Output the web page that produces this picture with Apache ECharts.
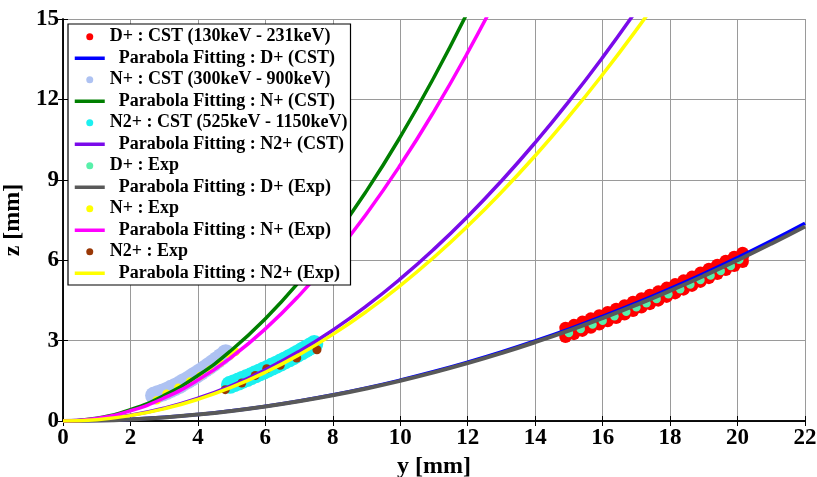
<!DOCTYPE html>
<html>
<head>
<meta charset="utf-8">
<script src="https://cdn.jsdelivr.net/npm/echarts@6/dist/echarts.min.js"></script>
<style>
html,body{margin:0;padding:0;background:#fff;}
#chart{width:817px;height:477px;}
</style>
</head>
<body>
<div id="chart"></div>
<script>
// ---- axis ranges ----
const xMin = 0, xMax = 22, xStep = 2;
const zMin = 0, zMax = 15, zStep = 3;

// ---- D+ : CST (three rows of the dense band) ----
const dCstY = [14.9,15.15,15.4,15.65,15.9,16.15,16.4,16.65,16.9,17.15,17.4,17.65,17.9,18.15,18.4,18.65,18.9,19.15,19.4,19.65,19.9,20.15];
const dCstZupper = [3.47,3.58,3.70,3.82,3.94,4.06,4.18,4.31,4.44,4.57,4.70,4.83,4.97,5.10,5.24,5.38,5.53,5.67,5.82,5.97,6.12,6.27];
const dCstZmid = [3.30,3.42,3.54,3.66,3.78,3.90,4.02,4.15,4.28,4.41,4.54,4.67,4.81,4.94,5.08,5.22,5.37,5.51,5.66,5.81,5.96,6.11];
const dCstZlower = [3.14,3.25,3.37,3.49,3.61,3.73,3.85,3.98,4.11,4.24,4.37,4.50,4.64,4.77,4.91,5.05,5.20,5.34,5.49,5.64,5.79,5.94];

// ---- N+ : CST band (centre line of the dense band) ----
const nCstY = [2.7,2.825,2.95,3.075,3.2,3.325,3.45,3.575,3.7,3.825,3.95,4.075,4.2,4.325,4.45,4.575,4.7,4.825];
const nCstZ = [0.95,1.01,1.06,1.12,1.20,1.27,1.35,1.45,1.53,1.63,1.73,1.83,1.94,2.05,2.16,2.28,2.40,2.53];

// ---- N2+ : CST band (centre line of the dense band) ----
const n2CstY = [4.95,5.075,5.2,5.325,5.45,5.575,5.7,5.825,5.95,6.075,6.2,6.325,6.45,6.575,6.7,6.825,6.95,7.075,7.2,7.325,7.45];
const n2CstZ = [1.35,1.41,1.47,1.54,1.60,1.67,1.74,1.81,1.88,1.95,2.03,2.10,2.18,2.26,2.34,2.42,2.51,2.60,2.69,2.78,2.87];

// ---- Experimental points ----
const dExpY = [15.0,15.35,15.7,16.0,16.35,16.7,17.0,17.3,17.6,17.95,18.3,18.6,18.9,19.2,19.5,19.8,20.05];
const dExpZ = [3.28,3.43,3.60,3.74,3.91,4.08,4.24,4.39,4.55,4.73,4.92,5.09,5.26,5.43,5.60,5.78,6.02];
const nExpY = [2.78,3.07,3.42,3.77,4.07,4.36,4.66,4.96,5.12];
const nExpZ = [0.77,1.02,1.24,1.47,1.68,1.91,2.17,2.44,2.58];
const n2ExpY = [4.81,5.30,5.70,6.04,6.44,6.93,7.53];
const n2ExpZ = [1.17,1.42,1.70,1.95,2.08,2.35,2.66];

// ---- Parabola fitting curves (sampled at y = 0,1,2,...) ----
const fitY = [0,1,2,3,4,5,6,7,8,9,10,11,12,13,14,15,16,17,18,19,20,21,22];
const fitDcst = [0,0.015,0.061,0.137,0.244,0.381,0.549,0.747,0.976,1.235,1.525,1.845,2.196,2.577,2.989,3.431,3.904,4.407,4.941,5.505,6.1,6.725,7.381];
const fitNcst = [0,0.106,0.424,0.954,1.696,2.65,3.816,5.194,6.784,8.586,10.6,12.826,15.264];
const fitN2cst = [0,0.053,0.212,0.477,0.848,1.325,1.908,2.597,3.392,4.293,5.3,6.413,7.632,8.957,10.388,11.925,13.568,15.317];
const fitDexp = [0,0.015,0.06,0.135,0.24,0.375,0.54,0.735,0.96,1.215,1.5,1.815,2.16,2.535,2.94,3.375,3.84,4.335,4.86,5.415,6.0,6.615,7.26];
const fitNexp = [0,0.0955,0.382,0.86,1.528,2.388,3.438,4.68,6.112,7.736,9.55,11.556,13.752,16.14];
const fitN2exp = [0,0.0505,0.202,0.4545,0.808,1.2625,1.818,2.4745,3.232,4.0905,5.05,6.1105,7.272,8.5345,9.898,11.3625,12.928,14.5945,16.362];

// ---- legend names ----
const names = [
  'D+ : CST (130keV - 231keV)',
  '  Parabola Fitting : D+ (CST)',
  'N+ : CST (300keV - 900keV)',
  '  Parabola Fitting : N+ (CST)',
  'N2+ : CST (525keV - 1150keV)',
  '  Parabola Fitting : N2+ (CST)',
  'D+ : Exp',
  '  Parabola Fitting : D+ (Exp)',
  'N+ : Exp',
  '  Parabola Fitting : N+ (Exp)',
  'N2+ : Exp',
  '  Parabola Fitting : N2+ (Exp)'
];

function pairs(xs, ys) { return ys.map((v, i) => [xs[i], v]); }
function rows(xs, list) { return list.reduce((acc, r) => acc.concat(pairs(xs, r)), []); }

const FONT = 'Liberation Serif';

function scatter(name, data, color, size) {
  return { name, type: 'scatter', data, symbol: 'circle', symbolSize: size,
    itemStyle: { color: color, opacity: 1 }, silent: true };
}
function fitLine(name, data, color, width) {
  return { name, type: 'line', data, smooth: true, showSymbol: false, symbol: 'none',
    clip: true, lineStyle: { color: color, width: width }, itemStyle: { color: color }, silent: true };
}

const series = [
  scatter(names[0], rows(dCstY, [dCstZupper, dCstZmid, dCstZlower]), '#FF0000', 12.5),
  fitLine(names[1], pairs(fitY, fitDcst), '#0000FF', 3.5),
  scatter(names[2], pairs(nCstY, nCstZ), '#AEC2F2', 18),
  fitLine(names[3], pairs(fitY, fitNcst), '#007F00', 3.5),
  scatter(names[4], pairs(n2CstY, n2CstZ), '#1CF0F0', 18),
  fitLine(names[5], pairs(fitY, fitN2cst), '#7A0AEA', 3.5),
  scatter(names[6], pairs(dExpY, dExpZ), '#58F0AA', 8.5),
  fitLine(names[7], pairs(fitY, fitDexp), '#595959', 4),
  scatter(names[8], pairs(nExpY, nExpZ), '#FFFF00', 8.5),
  fitLine(names[9], pairs(fitY, fitNexp), '#FF00FF', 3.5),
  scatter(names[10], pairs(n2ExpY, n2ExpZ), '#993806', 9),
  fitLine(names[11], pairs(fitY, fitN2exp), '#FFFF00', 3.5)
];

const labelStyle = { fontFamily: FONT, fontWeight: 'bold', fontSize: 23, color: '#000' };
const axisLineStyle = { show: true, lineStyle: { color: '#000', width: 1.5 } };

const option = {
  animation: false,
  backgroundColor: '#fff',
  grid: { left: 63, right: 12, top: 19, bottom: 56, containLabel: false, outerBoundsMode: 'none' },
  xAxis: [
    { type: 'value', min: xMin, max: xMax, interval: xStep, position: 'bottom',
      name: 'y [mm]', nameLocation: 'middle', nameGap: 30,
      nameTextStyle: { fontFamily: FONT, fontWeight: 'bold', fontSize: 24, color: '#000' },
      axisLine: axisLineStyle, axisTick: { inside: true, length: 5, lineStyle: { color: '#000' } },
      axisLabel: Object.assign({ margin: 6 }, labelStyle),
      splitLine: { show: true, lineStyle: { color: '#9a9a9a', width: 1 } } },
    { type: 'value', min: xMin, max: xMax, interval: xStep, position: 'top',
      axisLine: axisLineStyle, axisTick: { inside: true, length: 5, lineStyle: { color: '#000' } },
      axisLabel: { show: false }, splitLine: { show: false } }
  ],
  yAxis: [
    { type: 'value', min: zMin, max: zMax, interval: zStep, position: 'left',
      name: 'z [mm]', nameLocation: 'middle', nameGap: 36,
      nameTextStyle: { fontFamily: FONT, fontWeight: 'bold', fontSize: 24, color: '#000' },
      axisLine: axisLineStyle, axisTick: { inside: true, length: 5, lineStyle: { color: '#000' } },
      axisLabel: Object.assign({ margin: 4 }, labelStyle),
      splitLine: { show: true, lineStyle: { color: '#9a9a9a', width: 1 } } },
    { type: 'value', min: zMin, max: zMax, interval: zStep, position: 'right',
      axisLine: axisLineStyle, axisTick: { inside: true, length: 5, lineStyle: { color: '#000' } },
      axisLabel: { show: false }, splitLine: { show: false } }
  ],
  legend: {
    orient: 'vertical', left: 68, top: 24,
    padding: [3, 3, 2, 5],
    itemWidth: 30, itemHeight: 7, itemGap: 2,
    backgroundColor: '#fff', borderColor: '#000', borderWidth: 1.2, borderRadius: 0,
    selectedMode: false,
    textStyle: { fontFamily: FONT, fontWeight: 'bold', fontSize: 18, color: '#000', lineHeight: 19.5 },
    data: names.map((n, i) => (i % 2 === 0
      ? { name: n, icon: 'circle' }
      : { name: n, itemStyle: { opacity: 0 }, lineStyle: { width: 3.5, opacity: 1 } }))
  },
  series: series
};

const chart = echarts.init(document.getElementById('chart'), null, { renderer: 'canvas' });
chart.setOption(option);
</script>
</body>
</html>
